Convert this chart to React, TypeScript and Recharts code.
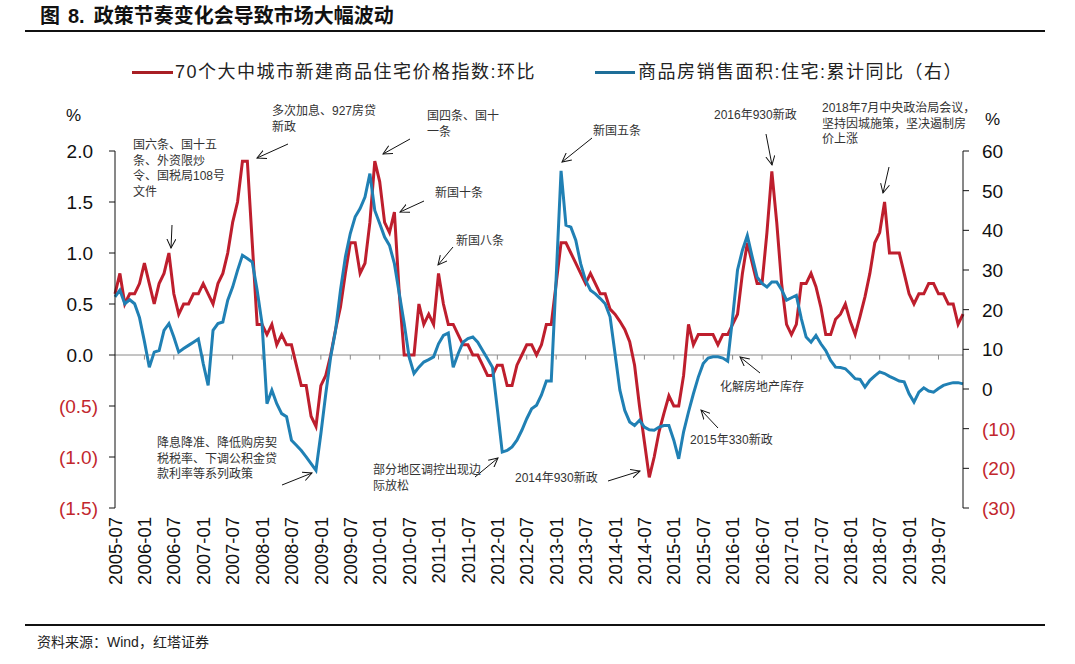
import React from "react";
import { LineChart, Line, XAxis, YAxis, ReferenceLine } from "recharts";

// monthly categories 2005-07 .. 2019-12
const MONTHS: string[] = [];
for (let i = 0; i < 174; i++) {
  const y = 2005 + Math.floor((6 + i) / 12);
  const m = ((6 + i) % 12) + 1;
  MONTHS.push(`${y}-${m < 10 ? "0" + m : m}`);
}

// 70个大中城市新建商品住宅价格指数:环比 (%)
const PRICE_MOM = [
  0.6, 0.8, 0.5, 0.6, 0.6, 0.7, 0.9, 0.7, 0.5, 0.7,
  0.8, 1.0, 0.6, 0.4, 0.5, 0.5, 0.6, 0.6, 0.7, 0.6,
  0.5, 0.7, 0.8, 1.0, 1.3, 1.5, 1.9, 1.9, 1.1, 0.3,
  0.3, 0.2, 0.3, 0.1, 0.2, 0.1, 0.1, -0.1, -0.3, -0.3,
  -0.6, -0.7, -0.3, -0.2, 0.0, 0.25, 0.47, 0.8, 1.1, 1.1,
  0.8, 0.9, 1.3, 1.9, 1.7, 1.3, 1.2, 1.4, 0.6, 0.0,
  0.0, 0.0, 0.5, 0.3, 0.4, 0.3, 0.8, 0.5, 0.3, 0.3,
  0.2, 0.1, 0.1, 0.0, 0.0, -0.1, -0.2, -0.2, -0.1, -0.1,
  -0.3, -0.3, -0.1, 0.0, 0.1, 0.1, 0.0, 0.1, 0.3, 0.3,
  0.7, 1.1, 1.1, 1.0, 0.9, 0.8, 0.7, 0.8, 0.7, 0.6,
  0.6, 0.45, 0.4, 0.33, 0.25, 0.13, -0.1, -0.5, -0.85, -1.2,
  -1.0, -0.75, -0.57, -0.4, -0.5, -0.5, -0.2, 0.3, 0.1, 0.2,
  0.2, 0.2, 0.2, 0.1, 0.2, 0.2, 0.3, 0.4, 0.8, 1.1,
  0.9, 0.7, 0.7, 1.2, 1.8, 1.3, 0.7, 0.3, 0.2, 0.3,
  0.7, 0.7, 0.8, 0.67, 0.47, 0.2, 0.2, 0.35, 0.4, 0.5,
  0.33, 0.2, 0.38, 0.57, 0.8, 1.1, 1.2, 1.5, 1.0, 1.0,
  1.0, 0.8, 0.6, 0.5, 0.6, 0.6, 0.7, 0.7, 0.6, 0.6,
  0.5, 0.5, 0.3, 0.4,
];

// 商品房销售面积:住宅:累计同比 (%, right axis)
const SALES_YOY = [
  23.2, 24.9, 21.5, 22.5, 21.5, 18, 12, 5.5, 9.3, 9.7,
  14.8, 16.5, 13.1, 9.3, 10.2, 11.0, 11.8, 12.6, 6.4, 0.9,
  14.8, 16.5, 16.9, 22.4, 25.7, 29.9, 33.7, 32.9, 32.0, 24.9,
  16.5, -3.7, -0.3, -3.7, -6.2, -7.0, -12.9, -14.2, -15.5, -17.1,
  -18.8, -20.5, -11.3, -1.2, 8.1, 14.8, 24.9, 33.3, 39.2, 43.4,
  45.5, 48.4, 54.3, 45.0, 41.7, 38.3, 36.2, 31.6, 24.0, 16.5,
  8.1, 3.9, 5.5, 6.8, 7.4, 8.1, 11.4, 13.5, 14.1, 5.5,
  8.9, 11.8, 12.7, 13.1, 11.8, 9.7, 7.6, 5.5, -5.0, -15.9,
  -15.5, -14.6, -12.9, -10.4, -7.5, -5.0, -4.1, -1.5, 2.0, 2.0,
  28, 55.0, 41.3, 40.8, 37.5, 31.6, 27.4, 24.9, 24.0, 22.8,
  21.5, 18.2, 9.0, -0.3, -5.4, -8.3, -9.2, -7.9, -9.6, -10.3,
  -10.4, -9.6, -9.2, -9.2, -12.9, -17.6, -10.8, -5.8, -1.2, 3.0,
  6.4, 7.8, 8.1, 8.1, 7.8, 7.0, 18, 30, 35, 38.7,
  33.3, 28.2, 26.6, 25.7, 27, 27, 25, 22.4, 23, 23.6,
  17.8, 13.1, 11.8, 13.5, 11.4, 9.7, 7.2, 5.5, 5.4, 5.1,
  3.9, 2.6, 2.4, 0.5, 2.2, 3.3, 4.3, 3.9, 3.2, 2.6,
  2.0, 1.8, -1.2, -3.3, -0.8, 0.3, -0.5, -0.8, 0.1, 0.9,
  1.3, 1.6, 1.6, 1.3,
];

const LEFT_TICKS = [2, 1.5, 1, 0.5, 0, -0.5, -1, -1.5];
const RIGHT_TICKS = [60, 50, 40, 30, 20, 10, 0, -10, -20, -30];

const RED = "#BE1E2D";
const BLUE = "#2080B4";
const NEG_TXT = "#C2272D";
const NUM_FONT = "'Liberation Sans', Arial, sans-serif";
const CJK_FONT = "'Liberation Sans', 'Noto Sans CJK SC', sans-serif";

const rows = MONTHS.map((m, i) => ({ month: m, price: PRICE_MOM[i], sales: SALES_YOY[i] }));

// annotations: [lines, x, y of first line]
const NOTES: { lines: string[]; x: number; y: number }[] = [
  { lines: ["国六条、国十五", "条、外资限炒", "令、国税局108号", "文件"], x: 133, y: 145 },
  { lines: ["多次加息、927房贷", "新政"], x: 272, y: 111 },
  { lines: ["国四条、国十", "一条"], x: 427, y: 116 },
  { lines: ["新国十条"], x: 435, y: 193 },
  { lines: ["新国八条"], x: 456, y: 241 },
  { lines: ["新国五条"], x: 593, y: 131 },
  { lines: ["2016年930新政"], x: 714, y: 115 },
  { lines: ["2018年7月中央政治局会议，", "坚持因城施策，坚决遏制房", "价上涨"], x: 822, y: 108 },
  { lines: ["降息降准、降低购房契", "税税率、下调公积金贷", "款利率等系列政策"], x: 157, y: 443 },
  { lines: ["部分地区调控出现边", "际放松"], x: 373, y: 470 },
  { lines: ["2014年930新政"], x: 515, y: 478 },
  { lines: ["2015年330新政"], x: 690, y: 440 },
  { lines: ["化解房地产库存"], x: 720, y: 387 },
];

// arrows: tail -> head
const ARROWS: number[][] = [
  [172, 225, 171, 248],
  [288, 144, 257, 158],
  [410, 139, 383, 154],
  [424, 201, 400, 212],
  [453, 247, 438, 265],
  [592, 138, 562, 162],
  [766, 134, 772, 165],
  [889, 167, 883, 193],
  [282, 485, 312, 473],
  [475, 477, 498, 458],
  [608, 481, 640, 471],
  [718, 428, 701, 410],
  [760, 373, 740, 357],
];

function LeftTick({ x, y, payload }: any) {
  const v = payload.value as number;
  const neg = v < 0;
  return (
    <text x={x - (neg ? 9 : 14)} y={y} dy="0.36em" textAnchor="end" fontSize={19}
      fontFamily={NUM_FONT} fill={neg ? NEG_TXT : "#111"}>
      {neg ? `(${Math.abs(v).toFixed(1)})` : v.toFixed(1)}
    </text>
  );
}

function RightTick({ x, y, payload }: any) {
  const v = payload.value as number;
  const neg = v < 0;
  return (
    <text x={x + 11} y={y} dy="0.36em" textAnchor="start" fontSize={19}
      fontFamily={NUM_FONT} fill={neg ? NEG_TXT : "#111"}>
      {neg ? `(${Math.abs(v)})` : v}
    </text>
  );
}

function MonthTick({ x, y, payload }: any) {
  return (
    <text transform={`translate(${x},${y + 9}) rotate(-90)`} dy="0.36em" textAnchor="end"
      fontSize={18.5} fontFamily={NUM_FONT} fill="#111">
      {payload.value}
    </text>
  );
}

export default function App() {
  return (
    <div style={{ position: "absolute", left: 0, top: 0, width: 1075, height: 664, background: "#fff", overflow: "hidden" }}>
      {/* title */}
      <div style={{ position: "absolute", left: 40, top: 4, height: 24, lineHeight: "24px", fontSize: 20, fontWeight: 700,
        fontFamily: CJK_FONT, color: "#111", whiteSpace: "nowrap" }}>
        <span>图</span><span style={{ marginLeft: 8 }}>8.</span><span style={{ marginLeft: 9 }}>政策节奏变化会导致市场大幅波动</span>
      </div>
      <div style={{ position: "absolute", left: 25, top: 30, width: 1020, height: 1.5, background: "#111" }} />

      {/* legend */}
      <div style={{ position: "absolute", left: 132, top: 70.5, width: 41, height: 3.5, background: "#A81E24" }} />
      <div style={{ position: "absolute", left: 175, top: 60, height: 24, lineHeight: "24px", fontSize: 18, letterSpacing: 1.5,
        fontFamily: CJK_FONT, color: "#222", whiteSpace: "nowrap" }}>
        70个大中城市新建商品住宅价格指数:环比
      </div>
      <div style={{ position: "absolute", left: 595, top: 70.5, width: 40, height: 3.5, background: "#1E6E98" }} />
      <div style={{ position: "absolute", left: 638, top: 60, height: 24, lineHeight: "24px", fontSize: 18, letterSpacing: 1.5,
        fontFamily: CJK_FONT, color: "#222", whiteSpace: "nowrap" }}>
        商品房销售面积:住宅:累计同比（右）
      </div>

      {/* units */}
      <div style={{ position: "absolute", left: 66, top: 106, fontSize: 17, fontFamily: NUM_FONT, color: "#111" }}>%</div>
      <div style={{ position: "absolute", left: 985, top: 110, fontSize: 17, fontFamily: NUM_FONT, color: "#111" }}>%</div>

      <div style={{ position: "absolute", left: 0, top: 0 }}>
        <LineChart width={1075} height={620} data={rows} margin={{ top: 151, right: 52, bottom: 12, left: 55 }}>
          <XAxis dataKey="month" interval={5} tickLine={false} axisLine={false} tickSize={0} tickMargin={0}
            height={100} tick={<MonthTick />} />
          <YAxis yAxisId="left" domain={[-1.5, 2]} ticks={LEFT_TICKS} width={60} interval={0}
            axisLine={{ stroke: "#111" }} tickLine={{ stroke: "#111" }} tick={<LeftTick />} />
          <YAxis yAxisId="right" orientation="right" domain={[-30, 60]} ticks={RIGHT_TICKS} width={60} interval={0}
            axisLine={{ stroke: "#111" }} tickLine={{ stroke: "#111" }} tick={<RightTick />} />
          <ReferenceLine yAxisId="left" y={0} stroke="#8a8a8a" strokeWidth={1} />
          {MONTHS.map((m, i) =>
            i > 0 && i % 6 === 0 ? (
              <ReferenceLine key={m} yAxisId="left" stroke="#8a8a8a" strokeWidth={1}
                segment={[{ x: m, y: 0 }, { x: m, y: -0.045 }]} />
            ) : null
          )}
          <Line yAxisId="left" type="linear" dataKey="price" stroke={RED} strokeWidth={3} dot={false}
            isAnimationActive={false} />
          <Line yAxisId="right" type="linear" dataKey="sales" stroke={BLUE} strokeWidth={3} dot={false}
            isAnimationActive={false} />
        </LineChart>
      </div>

      {/* annotations */}
      <svg width={1075} height={664} style={{ position: "absolute", left: 0, top: 0, pointerEvents: "none" }}>
        <defs>
          <marker id="arr" markerWidth="10" markerHeight="10" refX="9" refY="5" orient="auto" markerUnits="userSpaceOnUse">
            <path d="M0,0.5 L9,5 L0,9.5" fill="none" stroke="#111" strokeWidth="1" />
          </marker>
        </defs>
        {ARROWS.map((a, i) => (
          <line key={i} x1={a[0]} y1={a[1]} x2={a[2]} y2={a[3]} stroke="#111" strokeWidth={1} markerEnd="url(#arr)" />
        ))}
        {NOTES.map((n, i) => (
          <text key={i} fontSize={12} fontFamily={CJK_FONT} fill="#333">
            {n.lines.map((l, j) => (
              <tspan key={j} x={n.x} y={n.y + j * 15.5} dominantBaseline="central">{l}</tspan>
            ))}
          </text>
        ))}
      </svg>

      {/* footer */}
      <div style={{ position: "absolute", left: 25, top: 624, width: 1020, height: 1.5, background: "#111" }} />
      <div style={{ position: "absolute", left: 37, top: 632, height: 20, lineHeight: "20px", fontSize: 14,
        fontFamily: CJK_FONT, color: "#222", whiteSpace: "nowrap" }}>
        资料来源：Wind，红塔证券
      </div>
    </div>
  );
}
